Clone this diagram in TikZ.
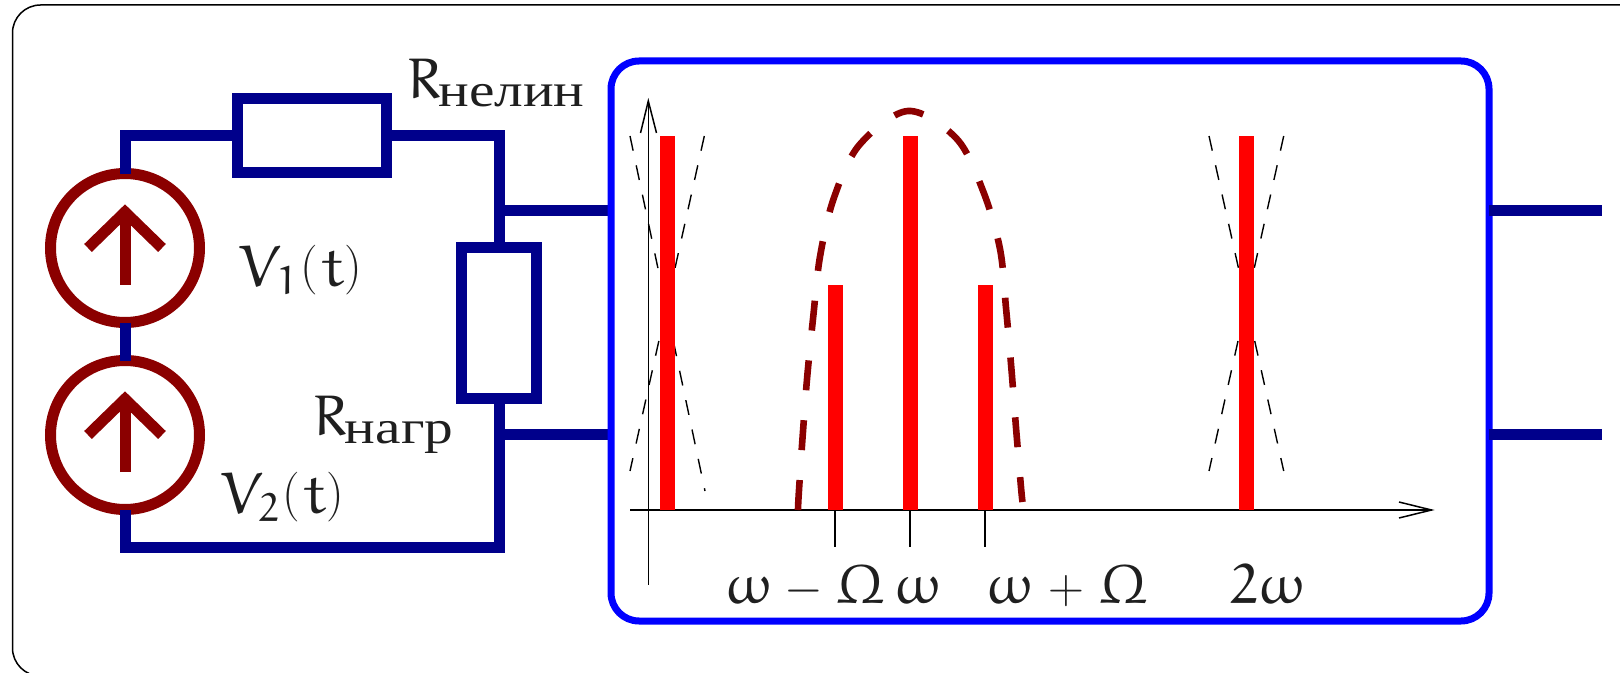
\documentclass[tikz,border=0pt]{standalone}
\usepackage[no-math]{fontspec}
\newfontfamily\cyrfont[Script=Cyrillic,FakeStretch=1.22]{Liberation Serif}
\newcommand{\eut}[2]{{\fontsize{#1}{#1}\usefont{U}{eur}{m}{n}#2}}
\newcommand{\crm}[2]{{\fontsize{#1}{#1}\usefont{OT1}{cmr}{m}{n}#2}}
\newcommand{\Rlabel}[1]{\makebox[16pt][l]{\eut{29}{R}}\raisebox{-4pt}{\cyrfont\fontsize{23.5}{26}\selectfont #1}}
\newcommand{\Vlabel}[1]{\makebox[19pt][l]{\eut{29}{V}}\makebox[12pt][l]{\raisebox{-4pt}{\eut{20}{#1}}}\makebox[10.5pt][l]{\raisebox{2pt}{\crm{25}{(}}}\makebox[11.3pt][l]{\eut{29}{t}}\raisebox{2pt}{\crm{25}{)}}}
\newcommand{\eOmega}{\eut{28}{\char"21}}
\newcommand{\bigOm}{\eut{28}{\char"0A}}
\newcommand{\opsign}[1]{\fontsize{30}{30}\selectfont$#1$}
\definecolor{wirenavy}{RGB}{0,0,139}
\definecolor{srcred}{RGB}{139,0,0}
\tikzset{
  x=0.5pt,y=-0.5pt,
  wire/.style={draw=wirenavy,line width=5.5pt,line cap=butt,miter limit=10},
  resistor/.style={wire,fill=none,rectangle,inner sep=0pt},
  src/.style={draw=srcred,circle,line width=5.5pt,inner sep=0pt,minimum size=74.5pt},
  srcarrow/.style={draw=srcred,line width=5.5pt},
  barline/.style={draw=red,line width=7.5pt},
  axisline/.style={draw=black,line width=0.75pt},
  thindash/.style={draw=black,line width=0.7pt,dash pattern=on 7.5pt off 7.5pt},
  lbl/.style={text=black!88,inner sep=0pt},
}
\begin{document}
\begin{tikzpicture}
\useasboundingbox (0,0) rectangle (1620,673);
% frame
\draw[black,line width=0.75pt,rounded corners=14pt] (12.5,5) rectangle (1700,676);
% nodes
\node[src] (s1) at (125,248) {};
\node[src] (s2) at (125,435) {};
\node[resistor,minimum width=74.5pt,minimum height=37pt] (r1) at (312,136) {};
\node[resistor,minimum width=37.5pt,minimum height=75pt] (r2) at (499,323) {};
\coordinate (tl) at (125,136);
\coordinate (tr) at (499,136);
\coordinate (bl) at (125,547);
\coordinate (br) at (499,547);
\coordinate (a1) at (499,210.5);
\coordinate (a2) at (499,434.5);
\coordinate (l1) at (612,210.5);
\coordinate (l2) at (612,434.5);
% wires
\draw[wire] (125,174) -- (tl) -- (r1.west);
\draw[wire] (r1.east) -- (tr) -- (r2.north);
\draw[wire] (r2.south) -- (br) -- (bl) -- (125,510);
\draw[wire] (125,323) -- (125,360.5);
\draw[wire] (a1) -- (l1);
\draw[wire] (a2) -- (l2);
% arrows
\draw[srcarrow] (125,285) -- (125,212);
\draw[srcarrow] (88,248) -- (125,212) -- (162,248);
\draw[srcarrow] (125,472) -- (125,399);
\draw[srcarrow] (88,435) -- (125,399) -- (162,435);
% box
\node[draw=blue,line width=3.5pt,rounded corners=14pt,minimum width=439pt,minimum height=280pt,inner sep=0pt] (box) at (1050,341) {};
\draw[wire] (1489,210.5) -- (1602,210.5);
\draw[wire] (1489,434.5) -- (1602,434.5);
% axes
\coordinate (xa) at (630,510);
\coordinate (xb) at (1431.5,510);
\coordinate (ya) at (648.3,584.5);
\coordinate (yb) at (648.3,101);
\draw[axisline] (xa) -- (xb);
\draw[axisline] (1399,502) -- (xb) -- (1399,518);
\draw[axisline] (ya) -- (yb);
\draw[axisline] (640.5,133) -- (yb) -- (656.5,133);
% thin dashed
\draw[thindash] (630,136) -- (705,491);
\draw[thindash] (704.3,136) -- (630,471);
\draw[thindash] (1209,136) -- (1283.7,471);
\draw[thindash] (1283.7,136) -- (1209,471);
% envelope
\draw[srcred,line width=3.3pt,dash pattern=on 15pt off 15pt]
 plot[smooth,tension=0.55] coordinates {(798,510) (798.7,494.7) (802.7,435.4) (807.3,375.7) (813.3,316) (820,256.7) (833.7,198.5) (859.3,145) (908,111) (956.7,138.8) (983.3,191.6) (1000,249) (1006,308) (1011.3,367.6) (1016,427.7) (1021,487.4) (1022.5,502)};
% bars
\draw[barline] (667,510) -- (667,136);
\draw[barline] (835,510) -- (835,285.5);
\draw[barline] (910,510) -- (910,136);
\draw[barline] (985,510) -- (985,285.5);
\draw[barline] (1246.3,510) -- (1246.3,136);
% ticks
\draw[axisline] (835,510) -- (835,546.5);
\draw[axisline] (910,510) -- (910,546.5);
\draw[axisline] (985,510) -- (985,546.5);
% labels
\node[lbl,anchor=base west] (lr1) at (406,99) {\Rlabel{нелин}};
\node[lbl,anchor=base west] (lr2) at (312.5,435.5) {\Rlabel{нагр}};
\node[lbl,anchor=base west] (lv1) at (238.5,287) {\Vlabel{1}};
\node[lbl,anchor=base west] (lv2) at (220.5,513) {\Vlabel{2}};
\node[lbl,anchor=base west] (lw1) at (725,603) {\makebox[29.5pt][l]{\eOmega}\makebox[26pt][l]{\opsign{-}}\bigOm};
\node[lbl,anchor=base west] (lw2) at (894.5,603) {\eOmega};
\node[lbl,anchor=base west] (lw3) at (986,603) {\makebox[31pt][l]{\eOmega}\makebox[25.5pt][l]{\opsign{+}}\bigOm};
\node[lbl,anchor=base west] (lw4) at (1230,603) {\eut{28}{2}\eOmega};
\end{tikzpicture}
\end{document}
